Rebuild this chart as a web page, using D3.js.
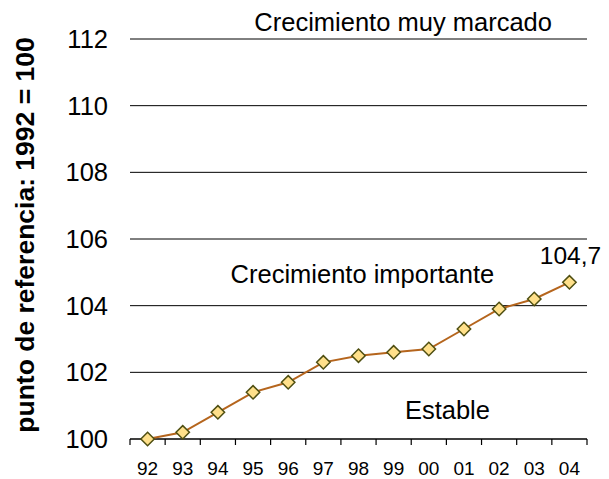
<!DOCTYPE html>
<html><head><meta charset="utf-8">
<script src="https://cdn.jsdelivr.net/npm/d3@7"></script>
<style>body{margin:0;background:#fff;} svg{display:block;font-family:"Liberation Sans",Arial,sans-serif;}</style>
</head><body>
<svg id="c" width="609" height="479"></svg>
<script>
const categories = ["92","93","94","95","96","97","98","99","00","01","02","03","04"];
const values = [100.0,100.2,100.8,101.4,101.7,102.3,102.5,102.6,102.7,103.3,103.9,104.2,104.7];
const yTicks = [100,102,104,106,108,110,112];
const yTitle = "punto de referencia: 1992 = 100";
// pos = position along category axis in category units (0 = left edge)
const zoneLabels = [
  {text:"Crecimiento muy marcado", pos:7.77, val:112.25},
  {text:"Crecimiento importante", pos:6.61, val:104.67},
  {text:"Estable", pos:9.03, val:100.6}
];
const lastLabel = "104,7";

const svg = d3.select("#c");
const L=130, R=587, T=39, B=439;
const x = d3.scaleBand().domain(categories).range([L,R]);
const xPos = d3.scaleLinear().domain([0,categories.length]).range([L,R]);
const y = d3.scaleLinear().domain([100,112]).range([B,T]);
const cx = c=>x(c)+x.bandwidth()/2;

// gridlines
svg.append("g").selectAll("line").data(yTicks.filter(d=>d>100)).join("line")
  .attr("x1",L).attr("x2",R).attr("y1",d=>y(d)).attr("y2",d=>y(d))
  .attr("stroke","#000").attr("stroke-width",1);

// y labels
svg.append("g").selectAll("text").data(yTicks).join("text")
  .attr("x",108).attr("y",d=>y(d)+9).attr("text-anchor","end")
  .attr("font-size",25.5).text(d=>d);

// x axis
const xAxis = d3.axisBottom(x).tickSize(0).tickPadding(0);
const gx = svg.append("g").attr("transform",`translate(0,${B})`).call(xAxis);
gx.select(".domain").attr("stroke","#000").attr("stroke-width",1.5).attr("d",`M${L},0H${R}`);
gx.selectAll("text").attr("font-size",19).attr("font-family","'Liberation Sans',Arial,sans-serif").attr("fill","#000").attr("dy",0).attr("y",36);
// boundary ticks
const bounds = categories.map(c=>x(c)).concat([R]);
svg.append("g").selectAll("line").data(bounds).join("line")
  .attr("x1",d=>d).attr("x2",d=>d).attr("y1",B).attr("y2",B+6)
  .attr("stroke","#000").attr("stroke-width",1.2);

// y title
svg.append("text").attr("transform",`translate(34,235) rotate(-90)`)
  .attr("text-anchor","middle").attr("font-size",26.5).attr("font-weight","bold").text(yTitle);

// zone labels
svg.append("g").selectAll("text").data(zoneLabels).join("text")
  .attr("x",d=>xPos(d.pos)).attr("y",d=>y(d.val))
  .attr("text-anchor","middle").attr("font-size",25.5).text(d=>d.text);

// line
svg.append("path").datum(values)
  .attr("d", d3.line().x((d,i)=>cx(categories[i])).y(d=>y(d)))
  .attr("fill","none").attr("stroke","#B5651D").attr("stroke-width",2);

// markers
svg.append("g").selectAll("path").data(values).join("path")
  .attr("transform",(d,i)=>`translate(${cx(categories[i])},${y(d)})`)
  .attr("d","M0,-6.7L6.7,0L0,6.7L-6.7,0Z")
  .attr("fill","#FFE08A").attr("stroke","#4F4F12").attr("stroke-width",1.5);

// last label
const li = values.length-1;
svg.append("text").attr("x",cx(categories[li])+1).attr("y",y(values[li])-18)
  .attr("text-anchor","middle").attr("font-size",24.5).text(lastLabel);
</script>
</body></html>
